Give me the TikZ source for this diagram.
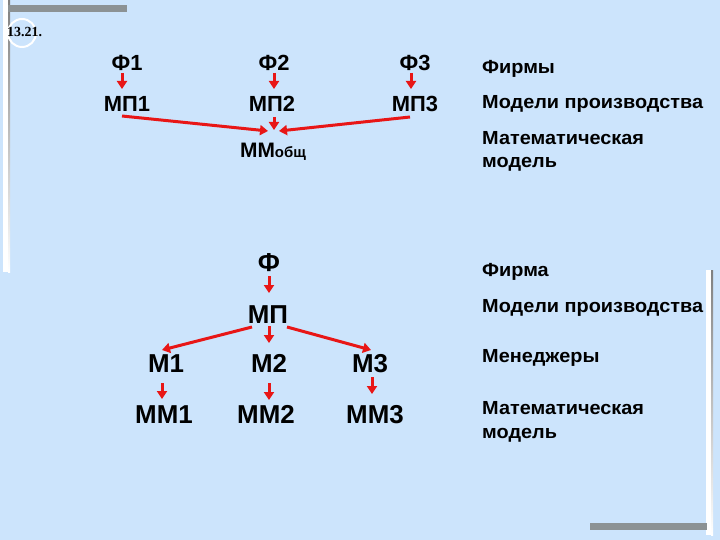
\documentclass[tikz,border=0pt]{standalone}
\usepackage{fontspec}
\setmainfont{Liberation Sans}
\newfontfamily\numserif{Liberation Serif}
\newfontfamily\labfont[FakeStretch=1.05]{Liberation Sans}
\usetikzlibrary{arrows.meta,calc}
\definecolor{bg}{RGB}{204,228,252}
\definecolor{arr}{RGB}{232,22,22}
\definecolor{barg}{RGB}{140,146,148}
\definecolor{shade}{RGB}{185,200,215}
\begin{document}
\begin{tikzpicture}[x=1bp,y=-1bp,
  big/.style={font=\fontsize{22}{24}\selectfont\bfseries, inner sep=0pt, anchor=base},
  bigger/.style={font=\fontsize{26}{28}\selectfont\bfseries, inner sep=0pt, anchor=base},
  lbl/.style={font=\labfont\fontsize{19}{22}\selectfont\bfseries, inner sep=0pt, anchor=base west},
  ar/.style={draw=arr, line width=3bp, -{Triangle[length=8bp,width=10bp]}},
]
\fill[bg] (0,0) rectangle (720,540);
\useasboundingbox (0,0) rectangle (720,540);
% decorations
\fill[shade] (8,0) rectangle (10,272);
\fill[white] (3,0) rectangle (8,272);
\fill[barg] (8,5) rectangle (127,12);
\fill[shade] (711,270) rectangle (713,535);
\fill[white] (706,270) rectangle (711,535);
\fill[barg] (590,523) rectangle (707,530);
\draw[white, line width=2bp] (22,33) circle (14);
\node[inner sep=0pt, anchor=base west, font=\numserif\fontsize{14}{15}\selectfont\bfseries] (num) at (7,37) {13.21.};

% upper part
\node[big] (f1) at (127,71) {Ф1};
\node[big] (f2) at (274,71) {Ф2};
\node[big] (f3) at (415,71) {Ф3};
\node[big] (mp1) at (127,112) {МП1};
\node[big] (mp2) at (272,112) {МП2};
\node[big] (mp3) at (415,112) {МП3};
\node[inner sep=0pt, anchor=base, font=\fontsize{21}{23}\selectfont\bfseries] (mm) at (273,158) {ММ{\fontsize{15}{16}\selectfont общ}};

\draw[ar] ($(f1.base)+(-5,2)$) -- ($(mp1.base)+(-5,-23)$);
\draw[ar] ($(f2.base)+(0,2)$) -- ($(mp2.base)+(2,-23)$);
\draw[ar] ($(f3.base)+(-4,2)$) -- ($(mp3.base)+(-4,-23)$);
\draw[ar] ($(mp1.base)+(-5,4)$) -- ($(mm.base)+(-5,-27)$);
\draw[ar] ($(mp3.base)+(-5,5)$) -- ($(mm.base)+(6,-27)$);
\draw[ar] ($(mp2.base)+(2,5)$) -- ($(mm.base)+(1,-28)$);

% lower part
\node[bigger] (phi) at (269,272) {Ф};
\node[bigger] (mp) at (268,323) {МП};
\node[bigger] (m1) at (166,372) {М1};
\node[bigger] (m2) at (269,372) {М2};
\node[bigger] (m3) at (370,372) {М3};
\node[bigger] (mm1) at (164,423) {ММ1};
\node[bigger] (mm2) at (266,423) {ММ2};
\node[bigger] (mm3) at (375,423) {ММ3};

\draw[ar] ($(phi.base)+(0,4)$) -- ($(mp.base)+(1,-30)$);
\draw[ar] ($(mp.base)+(-16,4)$) -- ($(m1.base)+(-4,-22)$);
\draw[ar] ($(mp.base)+(1,3)$) -- ($(m2.base)+(0,-29)$);
\draw[ar] ($(mp.base)+(19,4)$) -- ($(m3.base)+(1,-22)$);
\draw[ar] ($(m1.base)+(-4,11)$) -- ($(mm1.base)+(-2,-24)$);
\draw[ar] ($(m2.base)+(0,11)$) -- ($(mm2.base)+(3,-23)$);
\draw[ar] ($(m3.base)+(2,5)$) -- ($(mm3.base)+(-3,-29)$);

% right labels
\node[lbl] (l1) at (482,74) {Фирмы};
\node[lbl] (l2) at (482,109) {Модели производства};
\node[lbl] (l3a) at (482,145) {Математическая};
\node[lbl] (l3b) at (482,168) {модель};
\node[lbl] (l4) at (482,277) {Фирма};
\node[lbl] (l5) at (482,312) {Модели производства};
\node[lbl] (l6) at (482,362) {Менеджеры};
\node[lbl] (l7a) at (482,414) {Математическая};
\node[lbl] (l7b) at (482,438) {модель};
\end{tikzpicture}
\end{document}
